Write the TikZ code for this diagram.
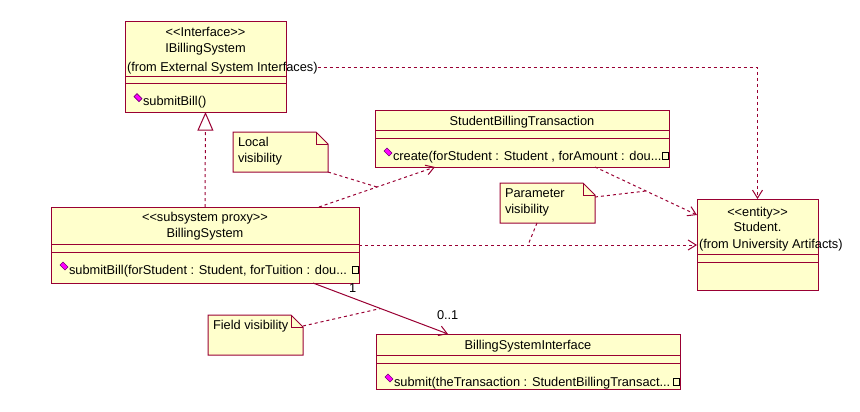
\documentclass[tikz,border=0pt]{standalone}
\usepackage{fontspec}
\setmainfont{Liberation Sans}
\usepackage{tikz}
\usetikzlibrary{arrows.meta,positioning,calc}
\definecolor{umlline}{HTML}{990033}
\definecolor{umlfill}{HTML}{FFFFCC}
\definecolor{opicon}{HTML}{FF00FF}

\tikzset{
  cls/.style={draw=umlline,fill=umlfill,anchor=north west,inner sep=0pt,outer sep=0pt,line width=0.75pt},
  lbl/.style={anchor=base,inner sep=0pt,outer sep=0pt},
  notebox/.style={draw=umlline,fill=umlfill,line width=0.75pt},
  notebody/.style={anchor=north west,inner sep=0pt,outer sep=0pt,minimum width=95*0.75pt,minimum height=40*0.75pt},
  link/.style={umlline,line width=0.75pt,dash pattern=on 2.25pt off 2.25pt},
  dep/.style={link,-{Straight Barb[length=6pt,width=7.5pt]}},
  assoc/.style={umlline,line width=0.75pt,-{Straight Barb[length=6pt,width=7.5pt]}},
  trunc/.style={draw=black,line width=0.6pt},
  opmark/.pic={\filldraw[fill=opicon,draw=black!55!opicon,line width=0.5pt] (-4,-1) -- (-1,-4) -- (4,1) -- (1,4) -- cycle;}
}

\begin{document}
\begin{tikzpicture}[x=0.75pt,y=-0.75pt,font=\fontsize{9.6pt}{11.5pt}\selectfont]
\useasboundingbox (0,0) rectangle (860,411);

% classes
\node[cls,minimum width=161*0.75pt,minimum height=91*0.75pt] (ibs) at (125,21) {};
\node[cls,minimum width=294*0.75pt,minimum height=57*0.75pt] (sbt) at (375,110) {};
\node[cls,minimum width=308*0.75pt,minimum height=76*0.75pt] (bs) at (51,207) {};
\node[cls,minimum width=121*0.75pt,minimum height=91*0.75pt] (stu) at (697,199) {};
\node[cls,minimum width=304*0.75pt,minimum height=55*0.75pt] (bsi) at (376,334) {};
\foreach \c/\a/\b in {ibs/55/62,sbt/20/28,bs/37/45,stu/55/63,bsi/21/29}{
  \draw[umlline,line width=0.75pt] ($(\c.north west)+(0,\a)$) -- ($(\c.north east)+(0,\a)$);
  \draw[umlline,line width=0.75pt] ($(\c.north west)+(0,\b)$) -- ($(\c.north east)+(0,\b)$);
}

% names
\node[lbl] (ibsst) at (205.5,36) {<{}<Interface>{}>};
\node[lbl] (ibsnm) at (205.5,52.7) {IBillingSystem};
\node[lbl,anchor=base west] (ibsfrom) at (127,71) {(from External System Interfaces)};
\node[lbl] (sbtnm) at (522,125.7) {StudentBillingTransaction};
\node[lbl] (bsst) at (205,221.7) {<{}<subsystem proxy>{}>};
\node[lbl] (bsnm) at (205,237.7) {BillingSystem};
\node[lbl] (stust) at (757.5,216) {<{}<entity>{}>};
\node[lbl] (stunm) at (757.5,231.7) {Student.};
\node[lbl,anchor=base west] (stufrom) at (699,248) {(from University Artifacts)};
\node[lbl] (bsinm) at (528,349.3) {BillingSystemInterface};

% operations
\pic at (138,97.7) {opmark};
\node[lbl,anchor=base west] (ibsop) at (143,105.7) {submitBill()};
\pic at (388,152) {opmark};
\node[lbl,anchor=base west] (sbtop) at (393,160) {create(forStudent : Student , forAmount : dou...};
\draw[trunc] (662,152) rectangle (668,159);
\pic at (64,266) {opmark};
\node[lbl,anchor=base west] (bsop) at (69,274) {submitBill(forStudent : Student, forTuition : dou...};
\draw[trunc] (352,266) rectangle (358,273);
\pic at (389,378) {opmark};
\node[lbl,anchor=base west] (bsiop) at (394,386) {submit(theTransaction : StudentBillingTransact...};
\draw[trunc] (673,378) rectangle (679,385);

% notes
\foreach \nn/\nx/\ny/\la/\lb in {lnote/233/132/Local/visibility,pnote/500/183/Parameter/visibility,fnote/208/315/Field visibility/{}}{
  \filldraw[notebox] (\nx,\ny) -- ++(83,0) -- ++(12,12) -- ++(0,28) -- ++(-95,0) -- cycle;
  \draw[umlline,line width=0.75pt] (\nx+83,\ny) -- ++(0,12) -- ++(12,0);
  \node[notebody] (\nn) at (\nx,\ny) {};
  \node[lbl,anchor=base west] (\nn-a) at (\nx+5,\ny+14.5) {\la};
  \node[lbl,anchor=base west] (\nn-b) at (\nx+5,\ny+30) {\lb};
}

% connectors
\draw[link,-{Triangle[open,length=14pt,width=12pt]}] (bs.north) -- (ibs.south);
\draw[dep] (ibsfrom.east) -| (stu.north);
\draw[dep] ($(bs.north west)+(268,0)$) -- coordinate[midway] (lmid) ($(sbt.south west)+(60,0)$);
\draw[dep] ($(sbt.south west)+(220,0)$) -- coordinate[midway] (pmid) ($(stu.north west)+(0,16)$);
\draw[dep] (bs.east) -- coordinate[midway] (bmid) (bs.east -| stu.west);
\draw[assoc] ($(bs.south west)+(262,0)$) -- coordinate[midway] (fmid) ($(bsi.north west)+(72,0)$);
\node[lbl,anchor=base west] (m1) at (349,292.7) {1};
\node[lbl,anchor=base west] (m01) at (437,319.3) {0..1};

\draw[link] (lnote.south east) -- (lmid);
\draw[link] ($(pnote.north east)+(0,14)$) -- (pmid);
\draw[link] ($(pnote.south west)+(37,0)$) -- (bmid);
\draw[link] ($(fnote.north east)+(0,11)$) -- (fmid);
\end{tikzpicture}
\end{document}
